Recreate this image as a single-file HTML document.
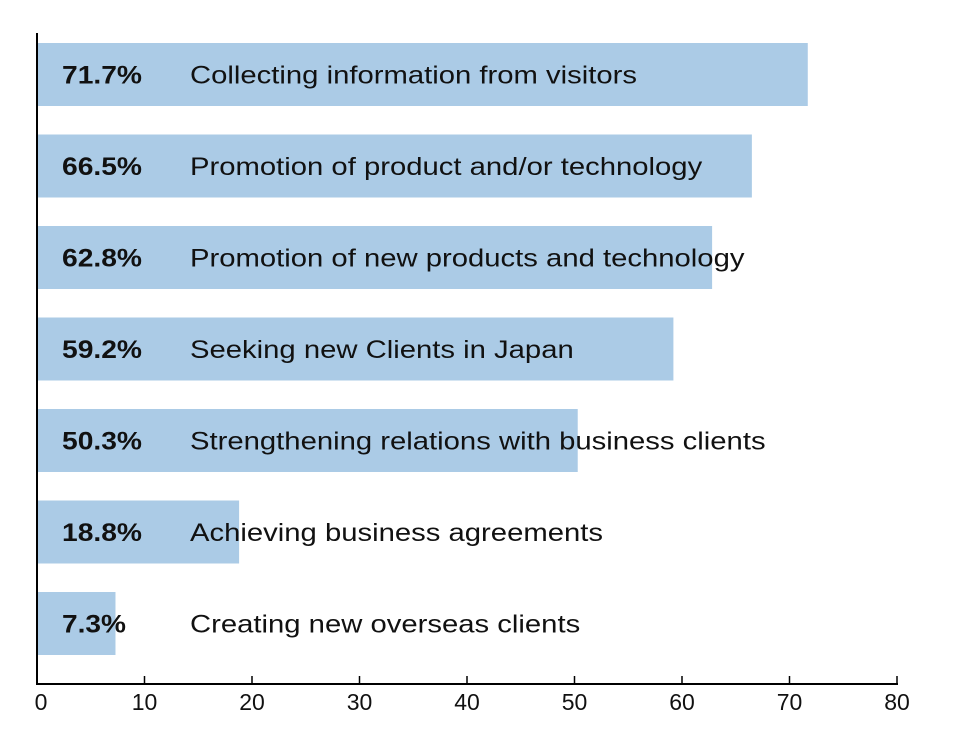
<!DOCTYPE html>
<html><head><meta charset="utf-8"><style>
body{margin:0;background:#fff;}
svg text{font-family:"Liberation Sans",sans-serif;fill:#111;}
</style></head><body>
<svg id="chart" width="960" height="750" viewBox="0 0 960 750" xmlns="http://www.w3.org/2000/svg">
<g id="bars"></g>
<g id="axes"></g>
</svg>
<script>
const categories=["Collecting information from visitors","Promotion of product and/or technology","Promotion of new products and technology","Seeking new Clients in Japan","Strengthening relations with business clients","Achieving business agreements","Creating new overseas clients"];
const values=[71.7,66.5,62.8,59.2,50.3,18.8,7.3];
const valueLabels=["71.7%","66.5%","62.8%","59.2%","50.3%","18.8%","7.3%"];
const ticks=[0,10,20,30,40,50,60,70,80];
const NS="http://www.w3.org/2000/svg";
const x0=37,x1=897,yTop=33,yBot=684,first=43,pitch=91.5,bh=63;
const xs=v=>x0+(v-0)/(80-0)*(x1-x0);
const ys=i=>first+i*pitch;
function mk(t,a,p){const e=document.createElementNS(NS,t);for(const k in a)e.setAttribute(k,a[k]);p.appendChild(e);return e;}
const gb=document.getElementById('bars'),ga=document.getElementById('axes');
values.forEach((v,i)=>{
 const r=mk('rect',{x:x0,y:ys(i),width:xs(v)-x0,height:bh,fill:'#abcbe6'},gb);
 
 
 const t=mk('text',{x:62,y:ys(i)+bh/2+9,'font-size':25,'font-weight':'bold'},gb);
 t.textContent=valueLabels[i];
 t.setAttribute('textLength',valueLabels[i].length*16);
 t.setAttribute('lengthAdjust','spacingAndGlyphs');
 
 
 const c=mk('text',{x:190,y:ys(i)+bh/2+9,'font-size':25},gb);
 c.textContent=categories[i];
 const w=c.getComputedTextLength();
 c.setAttribute('textLength',w*1.17);
 c.setAttribute('lengthAdjust','spacingAndGlyphs');
 
 
});
const yl=mk('line',{x1:x0,y1:yTop,x2:x0,y2:yBot+1,stroke:'#000','stroke-width':2},ga);


const xl=mk('line',{x1:x0-1,y1:yBot,x2:x1+1,y2:yBot,stroke:'#000','stroke-width':2},ga);


ticks.forEach(t=>{
 if(t>0){const tk=mk('line',{x1:xs(t),y1:yBot-8,x2:xs(t),y2:yBot,stroke:'#000','stroke-width':1.5},ga);
 
 }
 const tl=mk('text',{x:xs(t)+(t===0?4:0),y:710,'font-size':23,'text-anchor':'middle'},ga);
 tl.textContent=t;
 
 
});
</script>
</body></html>
